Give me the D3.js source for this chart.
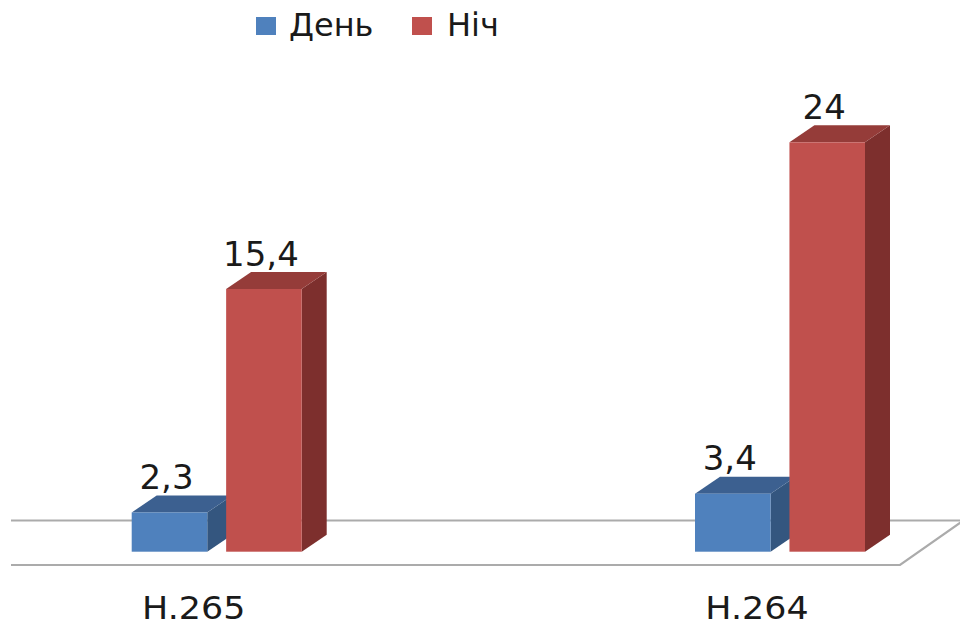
<!DOCTYPE html>
<html>
<head>
<meta charset="utf-8">
<script src="https://cdn.jsdelivr.net/npm/d3@7/dist/d3.min.js"></script>
<style>
  html, body { margin: 0; padding: 0; background: #fff; }
  svg { display: block; }
</style>
</head>
<body>
<svg id="chart" width="960" height="627"></svg>
<script>
// Chart data
const categories = ["H.265", "H.264"];
const seriesNames = ["День", "Ніч"];
const dayValues = [2.3, 3.4];
const nightValues = [15.4, 24];
const valueLabels = [["2,3", "15,4"], ["3,4", "24"]];

const W = 960, H = 627;
const svg = d3.select("#chart");

const colors = {
  "День": { front: "#4F81BD", top: "#3C6090", side: "#34567F" },
  "Ніч":  { front: "#C0504D", top: "#953C39", side: "#7D2F2D" }
};

// 3D depth offset of each column
const depth = { dx: 25, dy: -17 };

// Scales
const xCat = d3.scalePoint().domain(categories).range([216.7, 780]);
const xSeries = d3.scaleBand().domain(seriesNames).range([-85, 85]).paddingInner(0.2);
const y = d3.scaleLinear().domain([0, 24]).range([551.7, 142.3]);

const rows = categories.map((c, i) => ({
  cat: c,
  bars: [
    { s: seriesNames[0], v: dayValues[i], label: valueLabels[i][0] },
    { s: seriesNames[1], v: nightValues[i], label: valueLabels[i][1] }
  ]
}));

// Floor: back and front edges with the slanted right edge
const floorFront = 565, floorBack = 520.5;
const floor = svg.append("g").attr("stroke", "#ababab").attr("stroke-width", 2.2).attr("fill", "none");
floor.append("line").attr("x1", 11).attr("x2", W).attr("y1", floorBack).attr("y2", floorBack);
floor.append("path").attr("d", `M11,${floorFront} L900,${floorFront} L964,${floorBack - 0.5}`);

// Columns
const bw = xSeries.bandwidth();
const plot = svg.append("g");
rows.forEach(row => {
  row.bars.forEach(b => {
    const x0 = xCat(row.cat) + xSeries(b.s);
    const x1 = x0 + bw;
    const y0 = y(0), y1 = y(b.v);
    const c = colors[b.s];
    const g = plot.append("g");
    // side face
    g.append("path")
      .attr("d", `M${x1},${y1} L${x1 + depth.dx},${y1 + depth.dy} L${x1 + depth.dx},${y0 + depth.dy} L${x1},${y0} Z`)
      .attr("fill", c.side);
    // top face
    g.append("path")
      .attr("d", `M${x0},${y1} L${x0 + depth.dx},${y1 + depth.dy} L${x1 + depth.dx},${y1 + depth.dy} L${x1},${y1} Z`)
      .attr("fill", c.top);
    // front face
    g.append("rect")
      .attr("x", x0).attr("y", y1)
      .attr("width", bw).attr("height", y0 - y1)
      .attr("fill", c.front);
    // value label
    svg.append("text")
      .attr("x", (x0 + x1) / 2 - 3)
      .attr("y", y1 - 23.5)
      .attr("text-anchor", "middle")
      .attr("font-family", "DejaVu Sans, sans-serif")
      .attr("font-size", 34)
      .attr("fill", "#1a1a1a")
      .text(b.label);
  });
});

// Category labels
svg.append("g").selectAll("text")
  .data(categories)
  .join("text")
  .attr("transform", d => `translate(${xCat(d) - 23},619) scale(1.09,1)`)
  .attr("text-anchor", "middle")
  .attr("font-family", "DejaVu Sans, sans-serif")
  .attr("font-size", 32)
  .attr("fill", "#1a1a1a")
  .text(d => d);

// Legend
const legendItems = [
  { name: seriesNames[0], x: 256, tx: 289 },
  { name: seriesNames[1], x: 412, tx: 447 }
];
const legend = svg.append("g");
legendItems.forEach(it => {
  legend.append("rect")
    .attr("x", it.x).attr("y", 17)
    .attr("width", 20).attr("height", 18)
    .attr("fill", colors[it.name].front);
  legend.append("text")
    .attr("x", it.tx).attr("y", 36)
    .attr("font-family", "DejaVu Sans, sans-serif")
    .attr("font-size", 32)
    .attr("fill", "#1a1a1a")
    .text(it.name);
});
</script>
</body>
</html>
